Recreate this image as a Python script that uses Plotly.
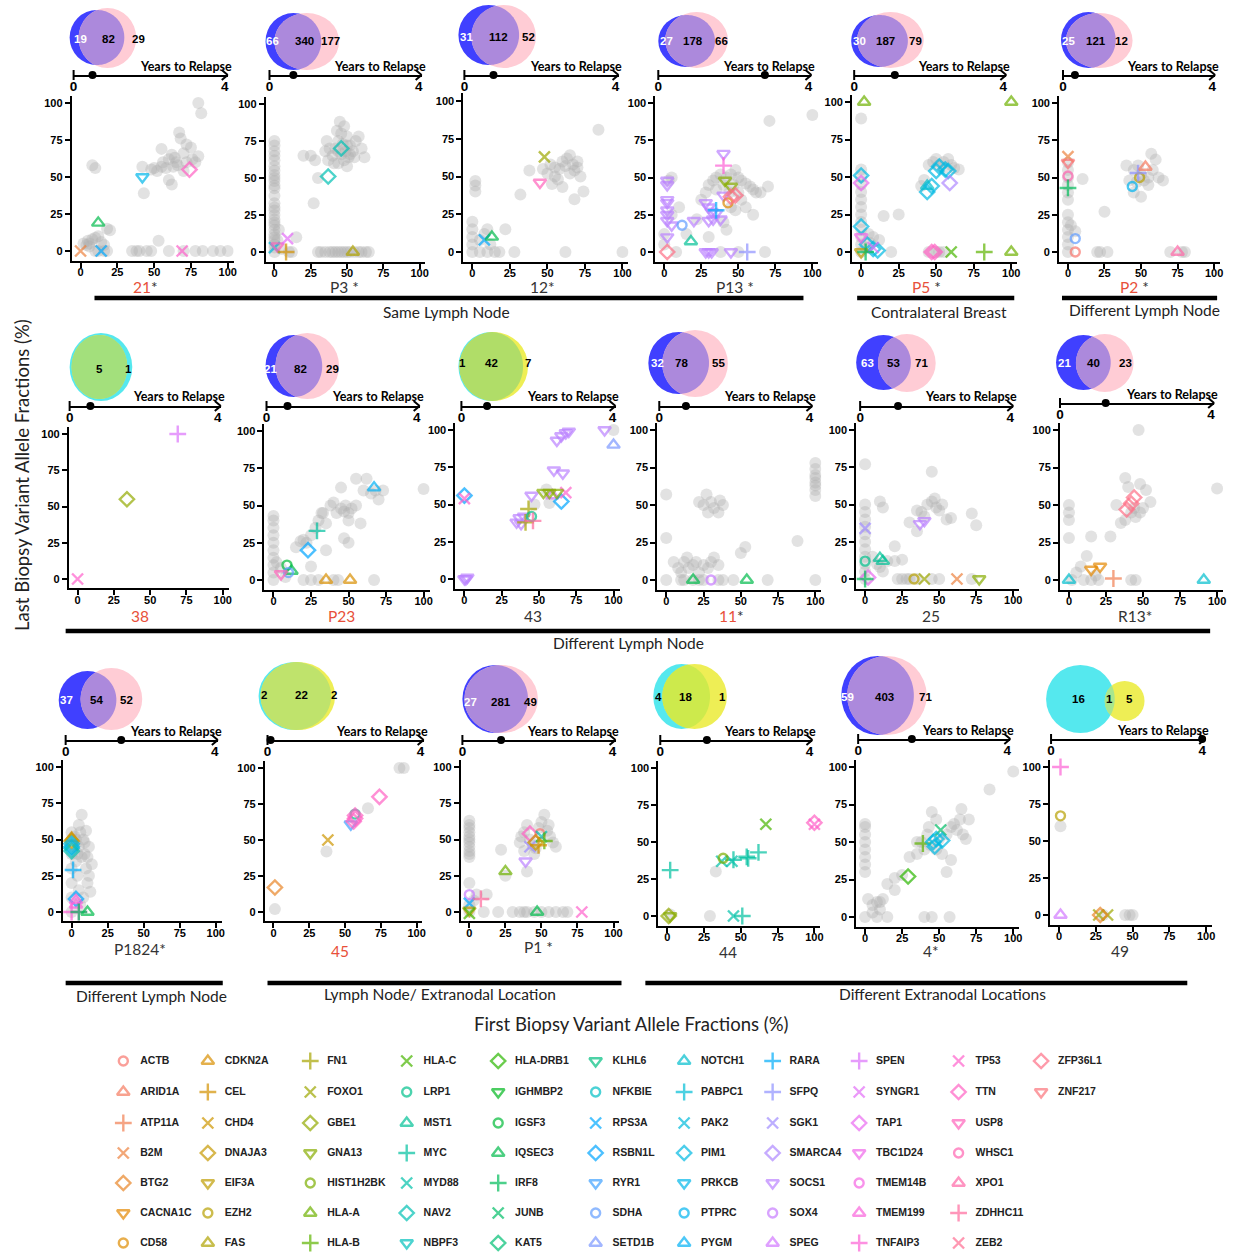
import math
import plotly.graph_objects as go

W, H = 1240, 1253

# ---------------- data ----------------
GENES = ["ACTB","ARID1A","ATP11A","B2M","BTG2","CACNA1C","CD58","CDKN2A","CEL","CHD4","DNAJA3","EIF3A",
         "EZH2","FAS","FN1","FOXO1","GBE1","GNA13","HIST1H2BK","HLA-A","HLA-B","HLA-C","HLA-DRB1","IGHMBP2",
         "IGSF3","IQSEC3","IRF8","JUNB","KAT5","KLHL6","LRP1","MST1","MYC","MYD88","NAV2","NBPF3","NFKBIE",
         "NOTCH1","PABPC1","PAK2","PIM1","PRKCB","PTPRC","PYGM","RARA","RPS3A","RSBN1L","RYR1","SDHA","SETD1B",
         "SFPQ","SGK1","SMARCA4","SOCS1","SOX4","SPEG","SPEN","SYNGR1","TAP1","TBC1D24","TMEM14B","TMEM199",
         "TNFAIP3","TP53","TTN","USP8","WHSC1","XPO1","ZDHHC11","ZEB2","ZFP36L1","ZNF217"]

LEGEND_COLUMNS = [
    ["ACTB","ARID1A","ATP11A","B2M","BTG2","CACNA1C","CD58"],
    ["CDKN2A","CEL","CHD4","DNAJA3","EIF3A","EZH2","FAS"],
    ["FN1","FOXO1","GBE1","GNA13","HIST1H2BK","HLA-A","HLA-B"],
    ["HLA-C","LRP1","MST1","MYC","MYD88","NAV2","NBPF3"],
    ["HLA-DRB1","IGHMBP2","IGSF3","IQSEC3","IRF8","JUNB","KAT5"],
    ["KLHL6","NFKBIE","RPS3A","RSBN1L","RYR1","SDHA","SETD1B"],
    ["NOTCH1","PABPC1","PAK2","PIM1","PRKCB","PTPRC","PYGM"],
    ["RARA","SFPQ","SGK1","SMARCA4","SOCS1","SOX4","SPEG"],
    ["SPEN","SYNGR1","TAP1","TBC1D24","TMEM14B","TMEM199","TNFAIP3"],
    ["TP53","TTN","USP8","WHSC1","XPO1","ZDHHC11","ZEB2"],
    ["ZFP36L1","ZNF217"],
]

PANEL_NAMES = ["21","P3","12","P13","P5","P2","38","P23","43","11","25","R13","P1824","45","P1","44","4","49"]
PANEL_STAR = [1,1,1,1,1,1,0,0,0,1,0,1,1,0,1,0,1,0]
PANEL_RED = [1,0,0,0,1,1,1,1,0,1,0,0,0,1,0,0,0,0]
YEARS_TO_RELAPSE = [0.50,0.64,0.77,2.84,1.09,0.32,0.56,0.56,0.68,0.71,1.01,1.21,1.49,0.08,1.03,1.25,1.44,4.0]
VENN_COUNTS = [("19","82","29"),("66","340","177"),("31","112","52"),("27","178","66"),("30","187","79"),
               ("25","121","12"),("","5","1"),("21","82","29"),("1","42","7"),("32","78","55"),
               ("63","53","71"),("21","40","23"),("37","54","52"),("2","22","2"),("27","281","49"),
               ("4","18","1"),("59","403","71"),("16","1","5")]
GROUP_LABELS = ["Same Lymph Node","Contralateral Breast","Different Lymph Node","Different Lymph Node",
                "Different Lymph Node","Lymph Node/ Extranodal Location","Different Extranodal Locations"]

GRAY_21 = [(8,58),(10,56),(2,5),(4,4),(5,7),(6,5),(8,8),(10,9),(12,10),(14,6),(16,4),(18,15),(20,14),(6,3),
           (10,0),(12,0),(16,0),(18,0),(35,0),(38,0),(40,0),(45,0),(48,0),(60,0),(70,0),(78,0),(83,0),(90,0),
           (95,0),(100,0),(43,39),(42,57),(48,55),(50,56),(52,54),(55,57),(56,60),(58,56),(60,48),(62,45),
           (55,69),(60,62),(62,65),(64,63),(65,60),(66,58),(67,80),(68,76),(70,66),(72,72),(75,70),(76,62),
           (78,60),(80,100),(82,93),(80,64),(72,60),(63,57),(70,54),(53,7)]
MUT_21 = [("B2M",0,0),("IQSEC3",12,19),("RPS3A",14,0),("PRKCB",42,50),("TTN",74,55),("TP53",69,0)]

GRAY_P3 = [(0,0),(0,3),(0,5),(0,8),(0,10),(0,12),(0,15),(0,18),(0,20),(0,22),(0,25),(0,28),(0,30),(0,33),
           (0,38),(0,43),(0,45),(0,48),(0,50),(0,52),(0,55),(0,58),(0,62),(0,65),(0,68),(0,72),(0,75),(2,8),
           (3,15),(15,10),(5,2),(10,0),(12,0),(30,0),(32,0),(35,0),(38,0),(40,0),(42,0),(44,0),(46,0),(48,0),
           (50,0),(52,0),(55,0),(58,0),(60,0),(63,0),(65,0),(40,65),(42,70),(44,75),(46,80),(48,85),(50,78),
           (52,72),(54,68),(55,64),(48,62),(44,60),(41,60),(38,70),(36,75),(50,58),(56,75),(58,78),(60,70),
           (62,64),(35,68),(45,88),(47,73),(43,82),(37,62),(52,66),(27,33),(25,65),(28,62),(30,50),(20,65),
           (49,68),(51,64),(46,66),(44,68),(50,72)]
MUT_P3 = [("PAK2",0,3),("USP8",2,4),("SYNGR1",9,9),("CEL",8,0),("NAV2",37,51),("NAV2",46,70),("FAS",54,0)]

GRAY_12 = [(0,0),(0,5),(0,10),(0,15),(0,20),(2,40),(2,44),(2,47),(5,8),(8,12),(10,15),(12,5),(15,0),(18,0),
           (22,15),(28,0),(5,0),(10,0),(32,38),(38,54),(47,55),(50,52),(52,58),(55,50),(57,48),(58,55),(60,60),
           (62,57),(63,62),(65,52),(67,58),(68,54),(70,60),(72,50),(60,43),(68,35),(74,40),(84,81),(62,0),
           (100,0),(55,56),(65,64),(70,56),(53,45)]
MUT_12 = [("RPS3A",8,8),("IQSEC3",13,10),("FOXO1",48,63),("USP8",45,46)]

GRAY_P13 = [(0,5),(0,12),(3,48),(5,50),(8,0),(5,25),(10,30),(15,12),(22,22),(25,35),(28,40),(30,45),(33,48),
            (35,50),(38,52),(40,45),(42,50),(45,52),(48,55),(50,50),(52,48),(55,46),(58,44),(60,42),(62,40),
            (50,40),(45,30),(48,28),(55,30),(40,20),(42,15),(60,25),(65,40),(70,44),(71,88),(100,92),(68,0),
            (50,0),(38,0),(30,10),(35,42),(44,40),(52,35),(47,45)]
MUT_P13 = [("SOCS1",2,48),("SOCS1",2,45),("SOCS1",2,35),("SOCS1",2,33),("SOCS1",2,28),("SOCS1",2,25),
           ("SOCS1",2,21),("SOCS1",2,10),("SOCS1",5,18),("SOCS1",20,21),("SOCS1",28,33),("SOCS1",30,30),
           ("SOCS1",32,27),("SOCS1",33,22),("SOCS1",35,26),("SOCS1",38,22),("SOCS1",30,21),("SOCS1",28,0),
           ("SOCS1",30,0),("SOCS1",32,0),("SOCS1",45,0),("SOCS1",40,66),("SOCS1",40,38),("SDHA",12,18),
           ("TNFAIP3",40,58),("GNA13",41,48),("GNA13",45,44),("CD58",43,33),("ZFP36L1",45,37),
           ("ZFP36L1",48,38),("ZFP36L1",2,0),("SFPQ",56,0),("MST1",18,7),("RARA",35,28)]

GRAY_P5 = [(0,0),(0,5),(0,10),(0,15),(0,20),(0,25),(0,30),(0,35),(0,40),(0,45),(0,50),(0,55),(0,89),(5,12),
           (8,10),(12,8),(15,24),(25,25),(20,0),(45,58),(48,60),(50,62),(52,58),(55,60),(58,62),(60,58),(62,56),
           (65,55),(55,56),(42,48),(40,44),(52,0),(50,0),(55,0),(45,0),(3,3),(6,6)]
MUT_P5 = [("HLA-A",2,100),("HLA-A",100,100),("HLA-A",100,0),("PIM1",0,51),("PIM1",0,17),("PIM1",4,5),
          ("PIM1",8,2),("PIM1",11,1),("PIM1",44,40),("PIM1",47,44),("PIM1",50,54),("PIM1",52,57),
          ("PIM1",56,55),("PIM1",58,54),("NOTCH1",44,44),("TAP1",0,46),("SMARCA4",59,46),("TBC1D24",0,10),
          ("SYNGR1",8,3),("TTN",47,0),("TTN",49,0),("HLA-C",60,0),("HLA-B",82,0),("EIF3A",0,0),("IRF8",3,0)]

GRAY_P2 = [(0,0),(0,5),(0,10),(0,15),(0,20),(0,25),(0,35),(0,40),(0,45),(0,50),(0,55),(0,60),(5,14),(10,49),
           (2,18),(22,0),(25,27),(27,0),(20,0),(45,55),(48,58),(50,52),(52,48),(55,45),(58,55),(60,62),(62,50),
           (65,48),(42,48),(45,40),(50,37),(40,58),(70,0),(80,0),(78,0),(55,50),(57,66),(47,47)]
MUT_P2 = [("B2M",0,64),("ZNF217",0,60),("WHSC1",0,51),("IRF8",0,43),("SDHA",5,9),("ACTB",5,0),
          ("PTPRC",44,44),("EZH2",49,50),("SFPQ",48,53),("ARID1A",53,57),("XPO1",75,0)]

GRAY_38 = []
MUT_38 = [("TP53",0,0),("GBE1",34,55),("SPEN",69,100)]

GRAY_P23 = [(0,0),(0,5),(0,10),(0,15),(0,20),(0,25),(0,30),(0,35),(0,40),(0,43),(2,12),(5,8),(8,2),(15,22),
            (18,26),(20,27),(22,25),(25,9),(25,30),(28,35),(30,40),(32,45),(35,38),(35,20),(38,50),(40,52),
            (42,45),(45,48),(47,46),(48,50),(50,45),(52,48),(55,50),(58,38),(60,60),(62,68),(65,58),(68,60),
            (70,54),(73,60),(55,68),(50,40),(50,25),(47,28),(100,61),(20,0),(25,0),(30,0),(40,0),(43,0),(67,0),
            (33,45),(45,62)]
MUT_P23 = [("PYGM",67,62),("MYC",29,33),("RSBN1L",23,20),("IGSF3",9,10),("IQSEC3",12,6),("SDHA",10,5),
           ("USP8",5,4),("CDKN2A",35,0),("CDKN2A",51,0)]

GRAY_43 = [(47,50),(55,60),(57,51),(100,100)]
MUT_43 = [("SOCS1",0,0),("SOCS1",2,1),("SOCS1",1,0),("SOCS1",35,38),("SOCS1",37,41),("SOCS1",40,42),
          ("SOCS1",38,37),("SOCS1",45,56),("SOCS1",60,73),("SOCS1",66,71),("SOCS1",62,93),("SOCS1",65,96),
          ("SOCS1",68,98),("SOCS1",70,99),("SOCS1",94,100),("SPEG",59,56),("SETD1B",100,90),("RSBN1L",0,56),
          ("RSBN1L",65,52),("TP53",0,54),("TP53",68,58),("FN1",43,47),("FN1",41,38),("LRP1",45,42),
          ("ZDHHC11",46,39),("GNA13",53,58),("GNA13",57,58),("GNA13",62,58)]

GRAY_11 = [(0,57),(0,28),(0,0),(5,12),(8,8),(10,5),(12,12),(14,15),(15,8),(18,10),(20,12),(22,5),(25,10),
           (28,8),(30,12),(32,15),(35,10),(18,0),(22,0),(25,0),(35,0),(38,0),(45,0),(68,0),(10,0),(12,0),
           (22,52),(25,50),(27,57),(28,45),(30,52),(32,48),(35,45),(36,53),(38,50),(50,18),(53,22),(88,26),
           (100,0),(100,56),(100,60),(100,63),(100,65),(100,68),(100,70),(100,74),(100,78)]
MUT_11 = [("IQSEC3",18,0),("IQSEC3",54,0),("SOX4",30,0)]

GRAY_25 = [(0,0),(0,5),(0,10),(0,15),(0,20),(0,25),(0,30),(0,35),(0,40),(0,45),(0,50),(0,77),(5,15),(8,10),
           (10,8),(12,5),(15,12),(20,12),(20,22),(25,13),(10,52),(12,48),(22,0),(25,0),(28,0),(30,0),(35,0),
           (45,0),(50,0),(72,0),(35,32),(38,45),(40,42),(42,50),(45,52),(47,54),(48,48),(50,46),(52,50),(55,40),
           (58,41),(45,72),(72,44),(75,36),(30,38),(35,46)]
MUT_25 = [("SGK1",0,34),("LRP1",0,12),("MST1",10,14),("MST1",12,12),("TAP1",2,1),("IRF8",0,0),
          ("SOCS1",37,37),("SOCS1",40,39),("EZH2",33,0),("FOXO1",40,0),("B2M",62,0),("GNA13",77,0)]

GRAY_R13 = [(0,50),(0,45),(0,40),(0,28),(2,0),(5,5),(8,9),(10,0),(12,16),(15,0),(20,0),(15,29),(28,29),
            (32,50),(35,38),(38,68),(40,62),(42,45),(45,42),(48,45),(50,48),(52,60),(55,52),(48,64),(47,100),
            (100,61),(42,0),(45,0),(18,3),(38,40),(44,48)]
MUT_R13 = [("NOTCH1",0,0),("NOTCH1",91,0),("CACNA1C",15,7),("CACNA1C",21,9),("ATP11A",30,1),
           ("ZFP36L1",39,47),("ZFP36L1",44,55),("ZFP36L1",42,51)]

GRAY_P1824 = [(0,0),(0,10),(0,20),(0,30),(0,40),(0,50),(0,55),(2,45),(3,35),(4,25),(5,15),(5,45),(6,55),
              (7,67),(8,50),(9,40),(10,30),(11,20),(12,45),(13,14),(14,33),(10,56),(8,10),(6,5),(3,50),(2,52),
              (5,60),(7,38),(9,48),(11,38),(12,25),(4,40)]
MUT_P1824 = [("CDKN2A",0,51),("DNAJA3",0,49),("PIM1",0,47),("PIM1",0,45),("PIM1",0,44),("NAV2",0,42),
             ("RARA",1,29),("RSBN1L",3,9),("TMEM199",3,8),("TMEM199",3,5),("TNFAIP3",0,0),("TNFAIP3",5,0),
             ("IQSEC3",11,0),("IRF8",5,0)]

GRAY_45 = [(1,2),(37,42),(66,72),(88,100),(91,100)]
MUT_45 = [("BTG2",1,17),("CHD4",38,50),("RYR1",54,61),("LRP1",57,68),("TTN",57,65),("TTN",56,63),
          ("TTN",57,67),("TTN",74,80)]

GRAY_P1 = [(0,38),(0,40),(0,42),(0,45),(0,48),(0,50),(0,52),(0,55),(0,58),(0,60),(0,63),(0,20),(0,5),(0,0),
           (3,8),(5,12),(10,0),(12,12),(20,0),(25,25),(22,43),(30,0),(35,0),(38,0),(40,0),(45,0),(50,0),(55,0),
           (60,0),(65,0),(68,0),(35,48),(38,55),(40,60),(42,50),(44,46),(46,44),(48,58),(50,62),(52,67),(54,56),
           (56,52),(58,48),(60,45),(40,28),(38,42),(45,40),(55,60),(36,52)]
MUT_P1 = [("SOX4",0,12),("RPS3A",0,6),("EIF3A",0,1),("HLA-C",0,-1),("ZDHHC11",8,9),("HLA-A",25,28),
          ("SOCS1",39,35),("SGK1",42,45),("TTN",42,54),("ACTB",49,54),("MYD88",50,52),("HLA-B",52,49),
          ("DNAJA3",46,48),("CEL",48,46),("IQSEC3",47,0),("TP53",78,0)]

GRAY_44 = [(33,30),(29,0),(2,1)]
MUT_44 = [("MYC",2,31),("MYC",45,38),("MYC",54,40),("MYC",55,39),("MYC",62,43),("MYC",51,0),
          ("MYD88",37,37),("MYD88",45,0),("MYD88",44,37),("HIST1H2BK",38,39),("HLA-C",67,62),
          ("TTN",100,63),("TP53",100,62),("GBE1",1,0),("GNA13",2,0)]

GRAY_4 = [(0,0),(0,30),(0,35),(0,40),(0,45),(0,50),(0,55),(0,60),(0,62),(2,12),(5,8),(8,10),(10,5),(12,12),
          (15,0),(8,0),(20,18),(15,22),(20,26),(25,28),(30,40),(35,42),(38,50),(40,45),(42,55),(44,48),(48,45),
          (50,52),(52,42),(55,55),(58,60),(60,62),(62,58),(64,65),(66,55),(68,52),(70,65),(48,65),(45,70),
          (55,30),(58,38),(84,85),(100,97),(40,0),(45,0),(57,0),(65,72),(43,60),(35,50),(5,3),(10,10)]
MUT_4 = [("HLA-B",39,49),("HLA-DRB1",29,27),("JUNB",51,58),("PIM1",46,50),("PIM1",47,47),("PIM1",52,51),
         ("PIM1",48,52)]

GRAY_49 = [(1,60),(30,0),(45,0),(48,0),(50,0)]
MUT_49 = [("TNFAIP3",1,100),("EZH2",1,67),("SPEG",1,0),("FOXO1",27,0),("FOXO1",33,0),("BTG2",28,0)]

GRAY_SETS = [GRAY_21,GRAY_P3,GRAY_12,GRAY_P13,GRAY_P5,GRAY_P2,GRAY_38,GRAY_P23,GRAY_43,GRAY_11,GRAY_25,
             GRAY_R13,GRAY_P1824,GRAY_45,GRAY_P1,GRAY_44,GRAY_4,GRAY_49]
MUT_SETS = [MUT_21,MUT_P3,MUT_12,MUT_P13,MUT_P5,MUT_P2,MUT_38,MUT_P23,MUT_43,MUT_11,MUT_25,MUT_R13,
            MUT_P1824,MUT_45,MUT_P1,MUT_44,MUT_4,MUT_49]

# ---------------- layout geometry (pixels) ----------------
PANEL_GEOM = [(77,225,103,251),(272,418,104,252),(471,622,101,252),(664,813,103,252),(862,1013,102,252),
              (1070,1217,103,252),
              (74,220,434,579),(271,422,431,580),(463,613,430,579),(666,816,430,580),(866,1015,430,579),
              (1071,1220,430,580),
              (68,213,767,912),(271,415,768,912),(468,613,767,912),(667,815,768,916),(866,1015,767,917),
              (1061,1209,767,915)]
TIMELINE_GEOM = [(70,225,75),(267,420,75),(463,618,75),(658,812,75),(855,1008,75),(1065,1218,75),
                 (66,218,406),(264,418,406),(460,615,406),(659,813,406),(861,1015,406),(1062,1217,403),
                 (62,215,740),(265,422,740),(461,615,740),(660,813,740),(859,1012,739),(1053,1208,739)]
VENN_GEOM = [((66,121,10,65),(75,133,8,68),(77,105,135),39),
             ((263,319,13,70),(272,337,13,70),(270,302,328),41),
             ((457,518,5,65),(470,535,5,68),(465,497,527),37),
             ((658,715,15,67),(665,728,12,68),(666,693,722),41),
             ((852,909,15,67),(858,925,12,68),(860,887,917),41),
             ((1063,1118,12,68),(1068,1135,13,68),(1071,1098,1124),41),
             ((66,129,333,401),(68,124,335,399),(70,96,125),369),
             ((263,320,335,397),(273,337,333,399),(268,298,330),369),
             ((457,522,332,401),(458,527,332,401),(461,490,527),363),
             ((648,709,332,394),(662,728,330,397),(657,681,719),363),
             ((857,912,335,390),(879,937,334,392),(868,895,923),363),
             ((1058,1113,335,390),(1078,1136,334,392),(1067,1096,1128),363),
             ((55,113,671,729),(77,139,668,730),(63,93,123),700),
             ((256,329,662,730),(258,333,662,730),(261,299,332),695),
             ((461,527,665,733),(463,537,665,733),(469,500,529),702),
             ((653,710,664,729),(662,727,664,729),(658,685,723),697),
             ((842,915,656,735),(848,928,656,735),(848,885,927),697),
             ((1048,1117,665,733),(1107,1147,681,721),(1081,1112,1132),699)]
VENN_STYLE = ["bp"]*6 + ["cy","bp","cy","bp","bp","bp","bp","cy","bp","cy","bp","cy"]
CY_OVERLAP = {6:"#A3E07C",8:"#B0DD68",13:"#BFE36C",15:"#CDEA4C",17:"#A8E68E"}
LABEL_POS = [(142,287),(342,287),(542,287),(735,287),(928,287),(1137,287),
             (137,616),(339,616),(532,616),(732,616),(932,616),(1137,616),
             (137,949),(338,951),(538,947),(728,952),(932,951),(1122,951)]
GROUP_GEOM = [(91,804,298,445,312),(858,1016,298,940,312),(1064,1220,298,1147,310),
              (62,1213,631,628,643),(62,220,983,148,996),(265,621,983,438,994),(645,1190,983,944,994)]
LEG_COL_X = [120,205,308,405,497,595,684,773,860,960,1043]
LEG_ROW_Y = [1061,1092,1123,1153,1183,1213,1243]


# ---------------- colour helpers ----------------
def hcl_hex(h, c=100.0, l=65.0):
    hr = math.radians(h)
    U, V = c * math.cos(hr), c * math.sin(hr)
    Xn, Yn, Zn = 95.047, 100.0, 108.883
    un = 4 * Xn / (Xn + 15 * Yn + 3 * Zn)
    vn = 9 * Yn / (Xn + 15 * Yn + 3 * Zn)
    Y = Yn * ((l + 16) / 116) ** 3
    up = U / (13 * l) + un
    vp = V / (13 * l) + vn
    X = Y * 9 * up / (4 * vp)
    Z = Y * (12 - 3 * up - 20 * vp) / (4 * vp)
    X, Y, Z = X / 100, Y / 100, Z / 100
    rgb = [3.2404542 * X - 1.5371385 * Y - 0.4985314 * Z,
           -0.9692660 * X + 1.8760108 * Y + 0.0415560 * Z,
           0.0556434 * X - 0.2040259 * Y + 1.0572252 * Z]
    out = []
    for v in rgb:
        v = 1.055 * v ** (1 / 2.4) - 0.055 if v > 0.0031308 else 12.92 * v
        out.append(int(round(max(0, min(1, v)) * 255)))
    return "#%02X%02X%02X" % tuple(out)


SYMS = ["circle-open", "triangle-up-open", "cross-thin-open", "x-thin-open", "diamond-open", "triangle-down-open"]
SYM_SIZE = {"circle-open": 9, "triangle-up-open": 11, "cross-thin-open": 12, "x-thin-open": 11,
            "diamond-open": 11, "triangle-down-open": 11}
GENE_COLOR = {g: hcl_hex(15 + 360.0 * i / len(GENES)) for i, g in enumerate(GENES)}
GENE_SYMBOL = {g: SYMS[i % 6] for i, g in enumerate(GENES)}

TICK_FONT = dict(family="Liberation Sans, Arial", size=11, color="black", weight="bold")
RED = "#E8503A"
MARK_LW = 2.4


def px(x):
    return x / W


def py(y):
    return 1 - y / H


def ellipse_pts(b, n=120):
    x0, x1, y0, y1 = b
    cx, cy, rx, ry = (x0 + x1) / 2, (y0 + y1) / 2, (x1 - x0) / 2, (y1 - y0) / 2
    return [(cx + rx * math.cos(2 * math.pi * t / n), cy + ry * math.sin(2 * math.pi * t / n)) for t in range(n)]


def clip_poly(subject, clipper):
    def inside(p, a, b):
        return (b[0] - a[0]) * (p[1] - a[1]) - (b[1] - a[1]) * (p[0] - a[0]) >= 0

    def inter(p1, p2, a, b):
        x1, y1 = p1; x2, y2 = p2; x3, y3 = a; x4, y4 = b
        den = (x1 - x2) * (y3 - y4) - (y1 - y2) * (x3 - x4)
        if abs(den) < 1e-12:
            return p2
        t = ((x1 - x3) * (y3 - y4) - (y1 - y3) * (x3 - x4)) / den
        return (x1 + t * (x2 - x1), y1 + t * (y2 - y1))

    out = subject
    for i in range(len(clipper)):
        a, b = clipper[i], clipper[(i + 1) % len(clipper)]
        inp, out = out, []
        if not inp:
            break
        s = inp[-1]
        for e in inp:
            if inside(e, a, b):
                if not inside(s, a, b):
                    out.append(inter(s, e, a, b))
                out.append(e)
            elif inside(s, a, b):
                out.append(inter(s, e, a, b))
            s = e
    return out


fig = go.Figure()
layout = dict(width=W, height=H, margin=dict(l=0, r=0, t=0, b=0), plot_bgcolor="white",
              paper_bgcolor="white", showlegend=False, font=dict(family="Lato, Liberation Sans", color="black"))
shapes, annotations = [], []


def axname(i, kind):
    return kind + ("" if i == 1 else str(i))


for k in range(18):
    # ---- scatter panel ----
    ai = k + 1
    x0, x100, y100, y0 = PANEL_GEOM[k]
    sx, sy = (x100 - x0) / 100.0, (y0 - y100) / 100.0
    XMIN, XMAX, YMIN, YMAX = -6, 104, -6.5, 105
    layout[axname(ai, "xaxis")] = dict(domain=[px(x0 + XMIN * sx), px(x0 + XMAX * sx)], range=[XMIN, XMAX],
                                       anchor=axname(ai, "y"), showline=True, linewidth=2, linecolor="black",
                                       ticks="outside", ticklen=5, tickwidth=2, tickcolor="black",
                                       tickvals=[0, 25, 50, 75, 100], tickfont=TICK_FONT, showgrid=False,
                                       zeroline=False, ticklabelstandoff=-5)
    layout[axname(ai, "yaxis")] = dict(domain=[py(y0 - YMIN * sy), py(y100 - (YMAX - 100) * sy)],
                                       range=[YMIN, YMAX], anchor=axname(ai, "x"), showline=True, linewidth=2,
                                       linecolor="black", ticks="outside", ticklen=5, tickwidth=2,
                                       tickcolor="black", tickvals=[0, 25, 50, 75, 100], tickfont=TICK_FONT,
                                       showgrid=False, zeroline=False)
    gray = GRAY_SETS[k]
    if gray:
        fig.add_trace(go.Scatter(x=[p[0] for p in gray], y=[p[1] for p in gray], mode="markers",
                                 xaxis=axname(ai, "x"), yaxis=axname(ai, "y"), hoverinfo="skip",
                                 marker=dict(size=12, color="rgba(175,175,175,0.36)", line=dict(width=0))))
    muts = MUT_SETS[k]
    syms = [GENE_SYMBOL[m[0]] for m in muts]
    cols = [GENE_COLOR[m[0]] for m in muts]
    fig.add_trace(go.Scatter(x=[m[1] for m in muts], y=[m[2] for m in muts], mode="markers",
                             xaxis=axname(ai, "x"), yaxis=axname(ai, "y"), text=[m[0] for m in muts],
                             cliponaxis=False,
                             marker=dict(symbol=syms, color=cols, size=[SYM_SIZE[s] for s in syms],
                                         line=dict(color=cols, width=MARK_LW))))

    # ---- timeline ----
    ti = k + 19
    s, e, ty = TIMELINE_GEOM[k]
    layout[axname(ti, "xaxis")] = dict(domain=[px(s), px(e)], range=[0, 4.08], anchor=axname(ti, "y"),
                                       showline=True, linewidth=2, linecolor="black", ticks="",
                                       tickvals=[0, 4], ticktext=["0", "4"], showgrid=False, zeroline=False,
                                       ticklabelstandoff=-2,
                                       tickfont=dict(family="Liberation Sans, Arial", size=13.5, color="black",
                                                     weight="bold"))
    layout[axname(ti, "yaxis")] = dict(domain=[py(ty), py(ty) + 0.003], range=[0, 1], visible=False,
                                       anchor=axname(ti, "x"))
    fig.add_trace(go.Scatter(x=[YEARS_TO_RELAPSE[k]], y=[0], mode="markers", cliponaxis=False,
                             xaxis=axname(ti, "x"), yaxis=axname(ti, "y"),
                             marker=dict(size=8, color="black")))
    shapes.append(dict(type="line", xref="paper", yref="paper", x0=px(s), x1=px(s), y0=py(ty - 5),
                       y1=py(ty + 5), line=dict(color="black", width=2)))
    for dy in (-5, 5):
        shapes.append(dict(type="line", xref="paper", yref="paper", x0=px(e), x1=px(e - 6), y0=py(ty),
                           y1=py(ty + dy), line=dict(color="black", width=2)))
    annotations.append(dict(x=px(e + 6), y=py(ty - 9), xref="paper", yref="paper", text="Years to Relapse",
                            showarrow=False, xanchor="right", yanchor="middle",
                            font=dict(family="Lato, Liberation Sans", size=12.5, color="black", weight="bold")))

    # ---- venn ----
    lb, rb, lx, ly = VENN_GEOM[k]
    style = VENN_STYLE[k]
    if style == "bp":
        cl, cr, co, lcol = "#4040FF", "#FFCCD5", "#AC89DC", "white"
    else:
        cl, cr, co, lcol = "#55E8EE", "#EEEE55", CY_OVERLAP[k], "black"
    for b, c in ((lb, cl), (rb, cr)):
        shapes.append(dict(type="circle", xref="paper", yref="paper", x0=px(b[0]), x1=px(b[1]),
                           y0=py(b[3]), y1=py(b[2]), fillcolor=c, line=dict(width=0), layer="above"))
    poly = clip_poly(ellipse_pts(rb), ellipse_pts(lb))
    if len(poly) > 2:
        path = "M " + " L ".join("%.5f,%.5f" % (px(p[0]), py(p[1])) for p in poly) + " Z"
        shapes.append(dict(type="path", xref="paper", yref="paper", path=path, fillcolor=co,
                           line=dict(width=0), layer="above"))
    for j, txt in enumerate(VENN_COUNTS[k]):
        if not txt:
            continue
        annotations.append(dict(x=px(lx[j]), y=py(ly), xref="paper", yref="paper", text=txt, showarrow=False,
                                xanchor="center", yanchor="middle",
                                font=dict(family="Liberation Sans, Arial", size=11.5, weight="bold",
                                          color=lcol if j == 0 else "black")))

    # ---- panel label ----
    name = PANEL_NAMES[k]
    t = '<span style="color:%s">%s</span>' % (RED, name) if PANEL_RED[k] else name
    if PANEL_STAR[k]:
        t += "*" if not name.startswith("P") or name == "P1824" else " *"
    lxp, lyp = LABEL_POS[k]
    annotations.append(dict(x=px(lxp), y=py(lyp), xref="paper", yref="paper", text=t, showarrow=False,
                            xanchor="center", yanchor="middle",
                            font=dict(family="Lato, Liberation Sans", size=15.5, color="#333333")))

# ---- group bars ----
for (gx0, gx1, gy, tx, tyy), lab in zip(GROUP_GEOM, GROUP_LABELS):
    shapes.append(dict(type="line", xref="paper", yref="paper", x0=px(gx0), x1=px(gx1), y0=py(gy), y1=py(gy),
                       line=dict(color="black", width=4.5)))
    annotations.append(dict(x=px(tx), y=py(tyy), xref="paper", yref="paper", text=lab, showarrow=False,
                            xanchor="center", yanchor="middle",
                            font=dict(family="Lato, Liberation Sans", size=15.5, color="#222222")))

# ---- axis titles ----
annotations.append(dict(x=px(18), y=py(475), xref="paper", yref="paper",
                        text="Last Biopsy Variant Allele Fractions (%)", showarrow=False, textangle=-90,
                        xanchor="center", yanchor="middle",
                        font=dict(family="Lato, Liberation Sans", size=18.5, color="#222222")))
annotations.append(dict(x=px(631), y=py(1024), xref="paper", yref="paper",
                        text="First Biopsy Variant Allele Fractions (%)", showarrow=False,
                        xanchor="center", yanchor="middle",
                        font=dict(family="Lato, Liberation Sans", size=18.5, color="#222222")))

# ---- legend (manual grid) ----
lg_x, lg_y, lg_t = [], [], []
for c, col in enumerate(LEGEND_COLUMNS):
    for r, g in enumerate(col):
        lg_x.append(LEG_COL_X[c]); lg_y.append(LEG_ROW_Y[r]); lg_t.append(g)
li = 37
layout[axname(li, "xaxis")] = dict(domain=[0, 1], range=[0, W], visible=False, anchor=axname(li, "y"))
layout[axname(li, "yaxis")] = dict(domain=[0, py(1040)], range=[H, 1040], visible=False, anchor=axname(li, "x"))
lsyms = [GENE_SYMBOL[g] for g in lg_t]
lcols = [GENE_COLOR[g] for g in lg_t]
fig.add_trace(go.Scatter(x=lg_x, y=lg_y, mode="markers", xaxis=axname(li, "x"), yaxis=axname(li, "y"),
                         cliponaxis=False,
                         marker=dict(symbol=lsyms, color=lcols, size=[SYM_SIZE[s] for s in lsyms],
                                     line=dict(color=lcols, width=MARK_LW))))
fig.add_trace(go.Scatter(x=[x + 17 for x in lg_x], y=lg_y, mode="text", text=lg_t, textposition="middle right",
                         xaxis=axname(li, "x"), yaxis=axname(li, "y"), cliponaxis=False,
                         textfont=dict(family="Liberation Sans, Arial", size=10.5, color="#222222",
                                       weight="bold")))

layout["shapes"] = shapes
layout["annotations"] = annotations
fig.update_layout(**layout)
fig.write_html("out.html", config={"displayModeBar": False},
               post_script="document.body.style.margin='0';")
